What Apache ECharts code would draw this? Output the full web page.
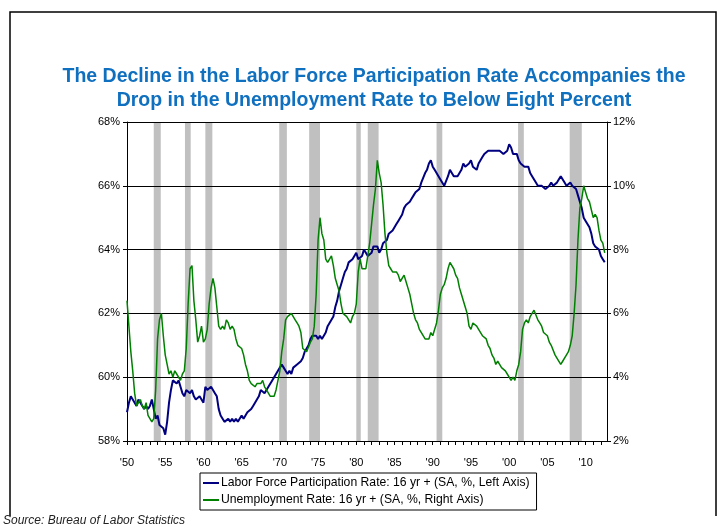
<!DOCTYPE html>
<html><head><meta charset="utf-8">
<script src="https://cdn.jsdelivr.net/npm/echarts@6/dist/echarts.min.js"></script>
<style>html,body{margin:0;padding:0;background:#fff}#c{width:718px;height:529px}</style>
</head><body><div id="c"></div>
<script>
// Quarterly observations, first at 1950.0, step 0.25 year
const startYear = 1950;
const stepYears = 0.25;

// Labor Force Participation Rate, 16 yr+ (%), left axis
const lfpr = [
 58.9,59.2,59.4,59.3, 59.3,59.1,59.3,59.2, 59.2,59.0,59.1,59.0, 59.1,59.3,59.0,58.7,
 58.8,58.5,58.5,58.4, 58.2,58.6,59.2,59.6, 59.9,59.9,59.8,59.9, 59.7,59.5,59.4,59.6,
 59.6,59.5,59.6,59.4, 59.3,59.3,59.4,59.3, 59.2,59.7,59.6,59.6, 59.7,59.6,59.5,59.4,
 59.0,58.8,58.8,58.6, 58.6,58.7,58.6,58.7, 58.6,58.7,58.6,58.6, 58.8,58.7,58.8,58.9,
 58.9,59.0,59.1,59.2, 59.3,59.4,59.6,59.6, 59.5,59.6,59.7,59.7, 59.9,60.0,60.1,60.2,
 60.3,60.4,60.3,60.2, 60.1,60.2,60.1,60.3, 60.3,60.4,60.4,60.5, 60.6,60.8,60.9,61.0,
 61.2,61.3,61.3,61.3, 61.2,61.3,61.2,61.2, 61.4,61.6,61.7,61.7, 61.9,62.2,62.4,62.7,
 62.9,63.1,63.3,63.4, 63.6,63.6,63.7,63.8, 63.9,63.7,63.7,63.8, 64.0,63.9,63.8,63.8,
 63.9,64.1,64.1,64.1, 63.9,64.0,64.2,64.2, 64.3,64.5,64.5,64.6, 64.7,64.8,64.9,65.0,
 65.1,65.3,65.4,65.4, 65.5,65.6,65.7,65.8, 65.8,65.9,66.1,66.1, 66.4,66.5,66.7,66.8,
 66.6,66.5,66.4,66.3, 66.2,66.2,66.0,66.0, 66.3,66.5,66.4,66.3, 66.3,66.3,66.4,66.5,
 66.7,66.6,66.6,66.7, 66.8,66.6,66.6,66.5, 66.7,66.8,66.9,67.0, 67.0,67.1,67.1,67.1,
 67.1,67.1,67.1,67.1, 67.1,67.0,67.0,67.1, 67.3,67.2,67.0,67.0, 67.0,66.8,66.7,66.7,
 66.6,66.6,66.6,66.4, 66.3,66.3,66.1,66.0, 66.0,66.0,66.0,65.9, 65.9,66.0,66.1,66.0,
 66.0,66.1,66.1,66.3, 66.3,66.1,66.0,66.0, 66.1,66.0,66.0,65.9, 65.7,65.7,65.3,65.0,
 64.9,64.9,64.7,64.5, 64.2,64.1,64.1,64.0, 63.8,63.7,63.6
];

// Unemployment Rate, 16 yr+ (%), right axis
const unrate = [
 6.4,5.6,4.8,4.2, 3.5,3.1,3.2,3.3, 3.1,3.0,3.2,2.8, 2.7,2.6,2.7,3.6,
 5.2,5.8,6.0,5.3, 4.7,4.4,4.1,4.2, 4.0,4.2,4.1,4.1, 3.9,4.1,4.2,4.9,
 6.3,7.4,7.5,6.4, 5.8,5.1,5.3,5.6, 5.1,5.2,5.5,6.3, 6.8,7.1,6.8,6.2,
 5.6,5.5,5.6,5.5, 5.8,5.7,5.5,5.6, 5.5,5.2,5.0,5.0, 4.9,4.7,4.4,4.2,
 3.9,3.8,3.8,3.7, 3.8,3.8,3.8,3.9, 3.7,3.6,3.5,3.4, 3.4,3.4,3.6,3.6,
 4.2,4.8,5.2,5.8, 5.9,5.9,6.0,5.9, 5.8,5.7,5.6,5.4, 4.9,4.9,4.8,4.8,
 5.1,5.2,5.6,6.6, 8.3,9.0,8.5,8.3, 7.7,7.6,7.7,7.8, 7.5,7.1,6.9,6.7,
 6.3,6.0,6.0,5.9, 5.9,5.7,5.9,6.0, 6.3,7.3,7.7,7.4, 7.4,7.4,7.4,8.2,
 8.8,9.4,9.9,10.8, 10.4,10.1,9.4,8.5, 7.9,7.5,7.4,7.3, 7.3,7.3,7.2,7.0,
 7.0,7.2,7.0,6.8, 6.6,6.3,6.0,5.8, 5.7,5.5,5.5,5.3, 5.2,5.2,5.2,5.4,
 5.3,5.3,5.7,6.1, 6.6,6.8,6.9,7.1, 7.4,7.6,7.6,7.4, 7.2,7.1,6.8,6.6,
 6.6,6.2,6.0,5.6, 5.5,5.7,5.7,5.6, 5.5,5.5,5.3,5.3, 5.2,5.0,4.9,4.7,
 4.6,4.4,4.5,4.4, 4.3,4.3,4.2,4.1, 4.0,3.9,4.0,3.9, 4.2,4.4,4.8,5.5,
 5.7,5.8,5.7,5.9, 5.9,6.1,6.1,5.8, 5.7,5.6,5.4,5.4, 5.3,5.1,5.0,5.0,
 4.7,4.6,4.6,4.4, 4.5,4.5,4.7,4.8, 5.0,5.3,6.0,6.9, 8.3,9.3,9.6,10.0,
 9.8,9.6,9.5,9.5, 9.0,9.1,9.0,8.6, 8.3,8.2,7.9
];

// NBER recessions (decimal years)
const recessionStarts = [1953.5, 1957.583, 1960.25, 1969.917, 1973.833, 1980.0, 1981.5, 1990.5, 2001.167, 2007.917];
const recessionEnds   = [1954.417, 1958.333, 1961.167, 1970.917, 1975.25, 1980.583, 1982.917, 1991.25, 2001.917, 2009.5];

const yearLabels = ["'50","'55","'60","'65","'70","'75","'80","'85","'90","'95","'00","'05","'10"];
const titleLines = ["The Decline in the Labor Force Participation Rate Accompanies the",
                    "Drop in the Unemployment Rate to Below Eight Percent"];
const seriesNames = ["Labor Force Participation Rate: 16 yr + (SA, %, Left Axis)",
                     "Unemployment Rate: 16 yr + (SA, %, Right Axis)"];
const sourceText = "Source: Bureau of Labor Statistics";

const FONT = "'Liberation Sans', Arial, sans-serif";
const toPairs = arr => arr.map((v, i) => [startYear + i * stepYears, v]);
const bands = recessionStarts.map((s, i) => [{ xAxis: s }, { xAxis: recessionEnds[i] }]);

const chart = echarts.init(document.getElementById('c'), null, { renderer: 'canvas' });
chart.setOption({
  animation: false,
  backgroundColor: '#fff',
  textStyle: { fontFamily: FONT },
  grid: { left: 127, right: 111, top: 122, bottom: 88, containLabel: false },
  graphic: [
    { type: 'polyline', shape: { points: [[10, 516], [10, 12], [716, 12], [716, 516]] },
      style: { stroke: '#000', lineWidth: 1.5, fill: null }, z: 10 },
    { type: 'text',
      style: { text: titleLines.join('\n'), x: 374, y: 65, textAlign: 'center', textVerticalAlign: 'top',
               font: "bold 19.5px " + FONT, fill: '#1070C0', lineHeight: 24 }, z: 10 },
    { type: 'text', style: { text: sourceText, x: 3, y: 515, font: "italic 12px " + FONT, fill: '#222' }, z: 10 }
  ],
  legend: {
    orient: 'vertical', left: 200, top: 473,
    borderColor: '#000', borderWidth: 1, padding: [4, 7, 4, 3], itemGap: 5,
    itemWidth: 16, itemHeight: 12,
    icon: 'path://M0,5 L16,5 L16,7 L0,7 Z',
    textStyle: { fontSize: 12.2, color: '#000', fontFamily: FONT, padding: [0, 0, 0, -3] },
    data: seriesNames
  },
  xAxis: {
    type: 'value', min: 1950, max: 2012.8, interval: 1, z: 2,
    axisLine: { show: true, lineStyle: { color: '#000', width: 1 } },
    axisTick: { show: true, length: 4, lineStyle: { color: '#000' } },
    splitLine: { show: false },
    axisLabel: {
      margin: 16, fontSize: 11, color: '#000', fontFamily: FONT, showMaxLabel: false,
      formatter: v => {
        const y = Math.round(v);
        if (Math.abs(v - y) > 1e-6 || (y - startYear) % 5 !== 0) return '';
        return yearLabels[(y - startYear) / 5] || '';
      }
    }
  },
  yAxis: [
    { type: 'value', min: 58, max: 68, interval: 2, position: 'left', z: 2,
      axisLine: { show: true, lineStyle: { color: '#000', width: 1 } },
      axisTick: { show: true, length: 4, lineStyle: { color: '#000' } },
      splitLine: { show: true, lineStyle: { color: '#000', width: 1 } },
      axisLabel: { formatter: '{value}%', fontSize: 11, color: '#000', margin: 7, fontFamily: FONT } },
    { type: 'value', min: 2, max: 12, interval: 2, position: 'right', z: 2,
      axisLine: { show: true, lineStyle: { color: '#000', width: 1 } },
      axisTick: { show: true, length: 4, lineStyle: { color: '#000' } },
      splitLine: { show: false },
      axisLabel: { formatter: '{value}%', fontSize: 11, color: '#000', margin: 6, fontFamily: FONT } }
  ],
  series: [
    { name: seriesNames[0], type: 'line', yAxisIndex: 0, symbol: 'none', z: 3,
      lineStyle: { color: '#000080', width: 2 }, itemStyle: { color: '#000080' },
      data: toPairs(lfpr),
      markArea: { silent: true, z: 1, itemStyle: { color: '#C0C0C0', opacity: 1 }, data: bands } },
    { name: seriesNames[1], type: 'line', yAxisIndex: 1, symbol: 'none', z: 4,
      lineStyle: { color: '#008000', width: 1.5 }, itemStyle: { color: '#008000' },
      data: toPairs(unrate) }
  ]
});
</script></body></html>
